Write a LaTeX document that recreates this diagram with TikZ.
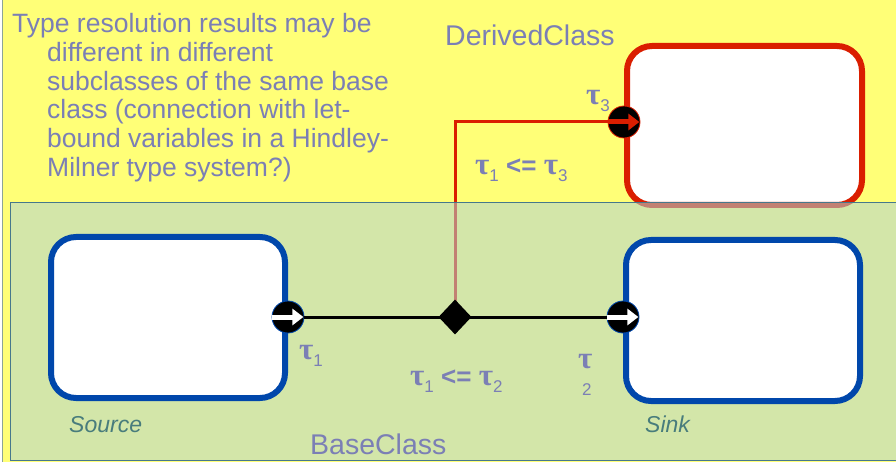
\documentclass[tikz,border=0pt]{standalone}
\usepackage{fontspec}
\setmainfont{Liberation Sans}
\newfontfamily\taufont{Liberation Serif}
\usetikzlibrary{shapes.geometric, arrows.meta, positioning}

\definecolor{noteblue}{RGB}{123,127,181}
\definecolor{labelteal}{RGB}{72,124,124}
\definecolor{boxblue}{RGB}{0,71,171}
\definecolor{boxred}{RGB}{218,30,0}
\definecolor{bgyellow}{RGB}{255,255,119}
\definecolor{basecyan}{RGB}{176,211,211}
\definecolor{edgegray}{RGB}{140,165,150}
\definecolor{edgeteal}{RGB}{70,120,140}

\newcommand{\taug}{{\taufont\bfseries\fontsize{31}{31}\selectfont τ}}
\newcommand{\tausub}[1]{\taug\raisebox{-7pt}{\mdseries\fontsize{17}{17}\selectfont #1}}

\begin{document}
\begin{tikzpicture}[
    x=1pt, y=-1pt,
    box/.style={
        rectangle, draw, line width=6pt, fill=white, rounded corners=25pt,
        minimum width=234pt, minimum height=161pt, inner sep=0pt
    },
    bluebox/.style={box, draw=boxblue},
    redbox/.style={box, draw=boxred, minimum width=235pt, minimum height=159pt},
    port/.style={
        circle, fill=black, draw=#1, line width=0.8pt,
        minimum size=32pt, inner sep=0pt
    },
    portarrow/.style={line width=5pt, -{Triangle[length=11pt, width=16pt]}, shorten >=1pt},
    wire/.style={line width=3pt, black},
    redwire/.style={line width=3pt, boxred},
    junction/.style={diamond, fill=black, minimum width=33pt, minimum height=35pt, inner sep=0pt},
    note/.style={text=noteblue, font=\fontsize{26.5}{28.8}\selectfont, inner sep=0pt},
    classtitle/.style={text=noteblue, font=\fontsize{28.5}{30}\selectfont, inner sep=0pt},
    boxlabel/.style={text=labelteal, font=\itshape\fontsize{23}{25}\selectfont, inner sep=0pt},
    tau/.style={text=noteblue, font=\bfseries\fontsize{26}{28}\selectfont, inner sep=0pt}
]
\useasboundingbox (0,0) rectangle (896,462);
\clip (0,0) rectangle (896,462);

%% DerivedClass region
\draw [fill=bgyellow, draw=edgegray, line width=1pt] (2,-5) rectangle (905,470);

\node (derived) [redbox] at (744.5,125.5) {};
\node (p3) [port=boxred] at (derived.west |- 0,122) {};
\coordinate (junc) at (455,317);

%% Constraint into the subclass port
\draw [redwire] (junc) |- (p3.west);
\draw [portarrow, boxred] (p3.west) -- (p3.east);

%% BaseClass region
\draw [fill=basecyan, fill opacity=0.55, draw=edgeteal, line width=1pt] (10,203) rectangle (905,460);

\node (source) [bluebox] at (168,317.5) {};
\node (sink)   [bluebox] at (743,320.5) {};

\node (p1) [port=boxblue] at (source.east |- junc) {};
\node (p2) [port=boxblue] at (sink.west |- junc) {};

\draw [wire] (p1.east) -- (p2.west);
\node (diam) [junction] at (junc) {};

\draw [portarrow, white] (p1.west) -- (p1.east);
\draw [portarrow, white] (p2.west) -- (p2.east);

%% Texts
\node (note) [note, align=left, anchor=north west] at (12,13)
    {Type resolution results may be\\
     \hspace*{35pt}different in different\\
     \hspace*{35pt}subclasses of the same base\\
     \hspace*{35pt}class (connection with let-\\
     \hspace*{35pt}bound variables in a Hindley-\\
     \hspace*{35pt}Milner type system?)};

\node (derivedname) [classtitle, anchor=base west] at (445,46) {DerivedClass};
\node (basename)    [classtitle, anchor=base west] at (310,454) {BaseClass};

\node (sourcename) [boxlabel, anchor=base west] at (69,432) {Source};
\node (sinkname)   [boxlabel, anchor=base west] at (645,432) {Sink};

\node (t1)    [tau, anchor=base west] at (299,359) {\tausub{1}};
\node (c12)   [tau, anchor=base west] at (410,385) {\tausub{1} <= \tausub{2}};
\node (t2)    [tau, anchor=base west] at (578,368) {\taug};
\node (t2sub) [tau, anchor=base west, font=\mdseries\fontsize{17}{17}\selectfont] at (582,395) {2};
\node (t3)    [tau, anchor=base west] at (586,105) {\tausub{3}};
\node (c13)   [tau, anchor=base west] at (475,175) {\tausub{1} <= \tausub{3}};

\end{tikzpicture}
\end{document}
